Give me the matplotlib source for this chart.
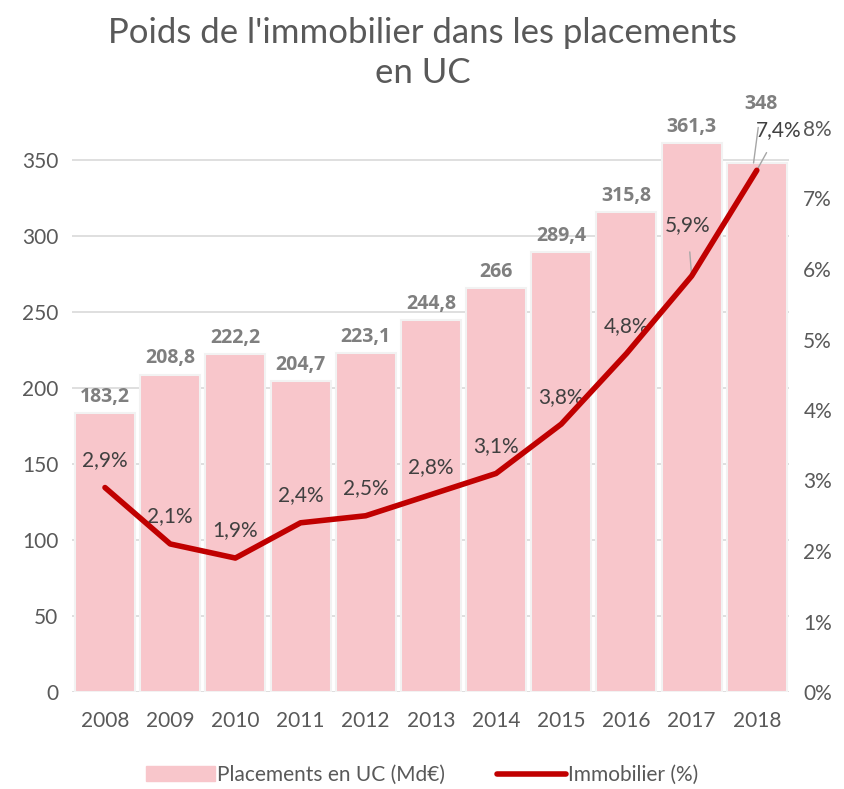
import numpy as np
import matplotlib.pyplot as plt

plt.rcParams['font.family'] = ['Lato', 'DejaVu Sans']

years = ['2008', '2009', '2010', '2011', '2012', '2013', '2014', '2015', '2016', '2017', '2018']
uc = [183.2, 208.8, 222.2, 204.7, 223.1, 244.8, 266, 289.4, 315.8, 361.3, 348]
uc_labels = ['183,2', '208,8', '222,2', '204,7', '223,1', '244,8', '266', '289,4', '315,8', '361,3', '348']
immo = [2.9, 2.1, 1.9, 2.4, 2.5, 2.8, 3.1, 3.8, 4.8, 5.9, 7.4]
immo_labels = ['2,9%', '2,1%', '1,9%', '2,4%', '2,5%', '2,8%', '3,1%', '3,8%', '4,8%', '5,9%', '7,4%']

bar_color = '#F8C6CB'
line_color = '#C00000'
gray = '#595959'
fs = 15
bold_font = dict(family=['Open Sans', 'DejaVu Sans'], fontweight='bold', fontsize=14)

fig = plt.figure(figsize=(8.45, 7.89), dpi=100)
ax = fig.add_axes([72.4 / 845, 1 - 692 / 789, 717 / 845, 564 / 789])
ax2 = ax.twinx()

x = np.arange(len(years))
ax.bar(x, uc, width=0.92, color=bar_color, edgecolor='#F2F2F2', linewidth=1.5, zorder=2)
ax.set_xlim(-0.5, len(years) - 0.5)
ax.set_ylim(0, 371)
ax.set_yticks(range(0, 351, 50))
ax.yaxis.grid(True, color='#D9D9D9', linewidth=1.2, zorder=0)
ax.set_axisbelow(True)
ax.set_xticks(x)
ax.set_xticklabels(years)
ax.tick_params(axis='both', length=0, labelsize=fs, colors=gray, pad=10)
ax.tick_params(axis='x', pad=14)
for s in ax.spines.values():
    s.set_visible(False)
for s in ax2.spines.values():
    s.set_visible(False)

# bar labels
for i, v in enumerate(uc):
    if i == len(uc) - 1:
        ax.annotate(uc_labels[i], xy=(i - 0.05, v), xytext=(i + 0.07, v + 39), ha='center', va='center',
                    color='#7F7F7F', **bold_font,
                    arrowprops=dict(arrowstyle='-', color='#A6A6A6', lw=1, shrinkA=8, shrinkB=0))
    else:
        ax.text(i, v + 4, uc_labels[i], ha='center', va='bottom', color='#7F7F7F', **bold_font)

ax2.plot(x, immo, color=line_color, linewidth=4, solid_capstyle='round', zorder=5)
ax2.set_ylim(0, 8)
ax2.set_yticks(range(0, 9))
ax2.set_yticklabels([f'{t}%' for t in range(0, 9)])
ax2.tick_params(axis='y', length=0, labelsize=fs, colors=gray, pad=10)
ax.set_zorder(0)
ax2.set_zorder(1)
ax2.patch.set_visible(False)

for i, v in enumerate(immo):
    if i == 9:
        ax2.annotate(immo_labels[i], xy=(i, v), xytext=(i - 0.06, v + 0.72), ha='center', va='center',
                     fontsize=fs, color='#404040',
                     arrowprops=dict(arrowstyle='-', color='#A6A6A6', lw=1, shrinkA=10, shrinkB=2))
    elif i == 10:
        ax2.annotate(immo_labels[i], xy=(i, v), xytext=(i + 0.34, v + 0.57), ha='center', va='center',
                     fontsize=fs, color='#404040',
                     arrowprops=dict(arrowstyle='-', color='#A6A6A6', lw=1, shrinkA=8, shrinkB=2))
    else:
        ax2.text(i, v + 0.39, immo_labels[i], ha='center', va='center', fontsize=fs, color='#404040')

fig.text(0.5, 1 - 53 / 789, "Poids de l'immobilier dans les placements\nen UC", ha='center', va='center',
         fontsize=25, color=gray, linespacing=1.3)

h1 = plt.Rectangle((0, 0), 1, 1, color=bar_color)
h2 = plt.Line2D([0], [0], color=line_color, linewidth=4, solid_capstyle='round')
fig.legend([h1, h2], ['Placements en UC (Md€)', 'Immobilier (%)'], loc='center',
           bbox_to_anchor=(0.5, 1 - 775 / 789), ncol=2, frameon=False, fontsize=fs,
           labelcolor=gray, handlelength=3.3, handletextpad=0.1, columnspacing=2.5)

fig.savefig('out.png', dpi=100)
